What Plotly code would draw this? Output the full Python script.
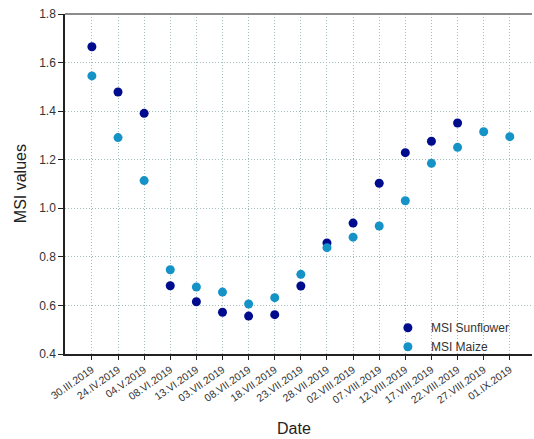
import plotly.graph_objects as go

dates = ["30.III.2019", "24.IV.2019", "04.V.2019", "08.VI.2019", "13.VI.2019",
         "03.VII.2019", "08.VII.2019", "18.VII.2019", "23.VII.2019", "28.VII.2019",
         "02.VIII.2019", "07.VIII.2019", "12.VIII.2019", "17.VIII.2019",
         "22.VIII.2019", "27.VIII.2019", "01.IX.2019"]
msi_sunflower = [1.665, 1.479, 1.391, 0.681, 0.615, 0.572, 0.556, 0.562, 0.680, 0.857,
                 0.939, 1.103, 1.229, 1.276, 1.351, None, None]
msi_maize = [1.545, 1.291, 1.114, 0.747, 0.676, 0.655, 0.606, 0.632, 0.728, 0.838,
             0.881, 0.927, 1.031, 1.185, 1.251, 1.315, 1.295]

fig = go.Figure()
fig.add_trace(go.Scatter(x=dates, y=msi_sunflower, mode="markers", name="MSI Sunflower",
                         marker=dict(color="#000C8E", size=9)))
fig.add_trace(go.Scatter(x=dates, y=msi_maize, mode="markers", name="MSI Maize",
                         marker=dict(color="#1593C6", size=9)))

grid = "#A3BDBD"
fig.update_layout(
    width=534, height=439,
    margin=dict(l=65, r=2, t=14, b=85, autoexpand=False),
    paper_bgcolor="white", plot_bgcolor="white",
    font=dict(family="Liberation Sans, Arial, sans-serif", color="#333333"),
    showlegend=True,
    legend=dict(x=0.685, y=0.12, xanchor="left", yanchor="top",
                bgcolor="rgba(0,0,0,0)", font=dict(size=12, color="#333333"),
                tracegroupgap=0, itemwidth=36),
    xaxis=dict(
        type="category", categoryorder="array", categoryarray=dates,
        range=[-1.03, 16.85], automargin=False,
        tickangle=-35, tickfont=dict(size=10.5, color="#333333"),
        showgrid=True, gridcolor=grid, griddash="1px,2px", gridwidth=1,
        showline=True, linecolor="#222222", linewidth=1.5,
        ticks="outside", ticklen=4, tickcolor="#222222",
        zeroline=False, mirror=False,
    ),
    yaxis=dict(
        range=[0.4, 1.8], dtick=0.2, tickformat=".1f", automargin=False,
        tickfont=dict(size=12, color="#333333"),
        showgrid=True, gridcolor=grid, griddash="1px,2px", gridwidth=1,
        showline=True, linecolor="#222222", linewidth=1.5,
        ticks="outside", ticklen=5, tickcolor="#222222",
        zeroline=False,
    ),
    annotations=[
        dict(text="Date", xref="paper", yref="paper", x=0.49, y=-0.22,
             xanchor="center", yanchor="middle", showarrow=False,
             font=dict(size=16, color="#222222")),
        dict(text="MSI values", xref="paper", yref="paper", x=-0.096, y=0.5,
             xanchor="center", yanchor="middle", showarrow=False, textangle=-90,
             font=dict(size=16, color="#222222")),
    ],
)
fig.add_shape(type="line", xref="paper", yref="paper", x0=0, x1=1, y0=1, y1=1,
              line=dict(color="#666666", width=1.5))

fig.write_html("out.html", config={"displayModeBar": False},
               post_script="document.body.style.margin='0';")
